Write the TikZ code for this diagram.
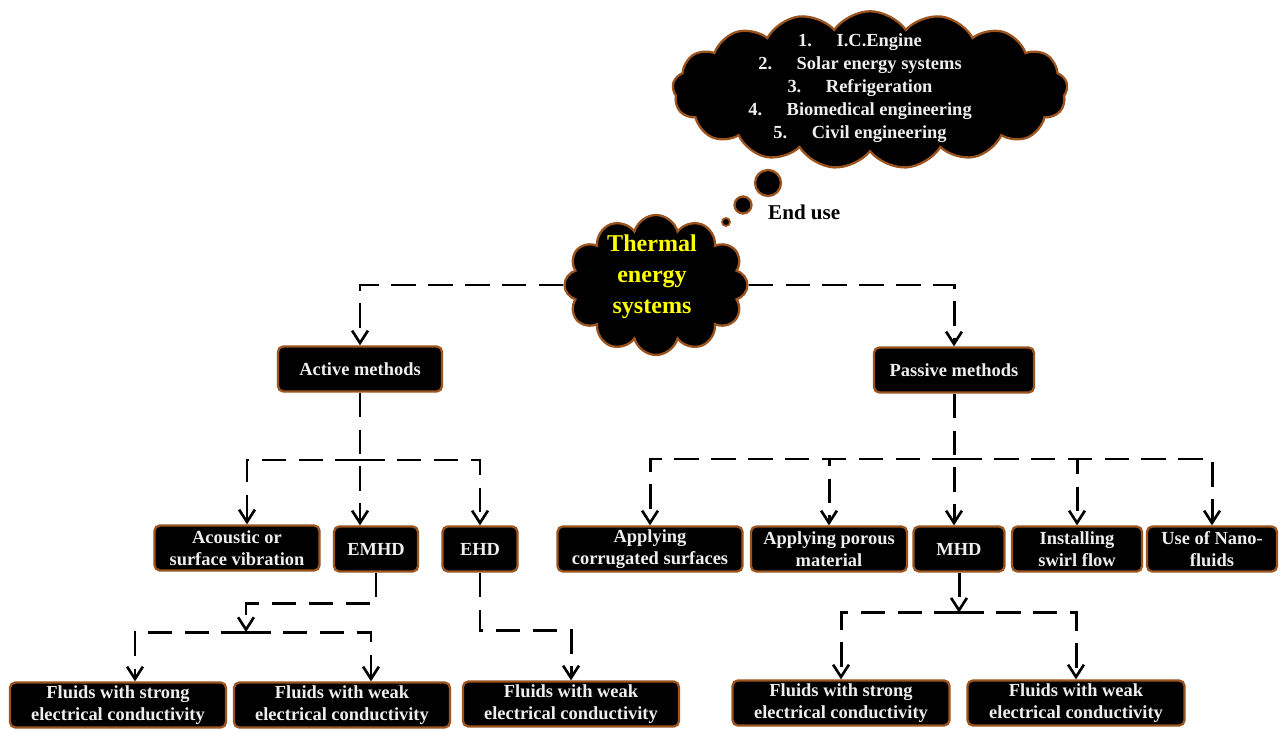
\documentclass[tikz,border=0pt]{standalone}
\usepackage{fontspec}
\setmainfont{Liberation Serif}
\usetikzlibrary{shapes.symbols, arrows.meta, positioning}
\definecolor{rim}{RGB}{156,84,30}
\definecolor{paper}{RGB}{238,238,238}
\definecolor{glow}{RGB}{255,255,0}

\begin{document}
\begin{tikzpicture}[x=0.02cm, y=-0.02cm, font=\bfseries\fontsize{10.5}{12.5}\selectfont,
    box/.style={draw=rim, fill=black, text=paper, line width=1.3pt, rounded corners=3pt,
        minimum height=0.9cm, align=center, inner xsep=2pt, inner ysep=0.5pt},
    puff/.style={cloud, draw=rim, fill=black, line width=1.3pt},
    bubble/.style={circle, draw=rim, fill=black, line width=1.3pt, inner sep=0pt},
    dline/.style={line width=1.7pt, dash pattern=on 14pt off 7pt},
    conn/.style={dline, -{Straight Barb[length=7pt, width=9pt, line width=1.5pt]}}]

\fill[white] (0,0) rectangle (1281,730);
\useasboundingbox (0,0) rectangle (1281,730);

\node[puff, cloud puffs=17, cloud puff arc=110, aspect=2.5, minimum width=7.9cm, minimum height=3.15cm] (usecloud) at (870,90) {};
\node[text=paper, align=center, font=\bfseries\fontsize{10.5}{13}\selectfont] (uselist) at (860,88) {
    1.\hspace{14pt}I.C.Engine\\
    2.\hspace{14pt}Solar energy systems\\
    3.\hspace{14pt}Refrigeration\\
    4.\hspace{14pt}Biomedical engineering\\
    5.\hspace{14pt}Civil engineering};

\node[bubble, minimum size=0.52cm] (bub1) at (768,183) {};
\node[bubble, minimum size=0.34cm] (bub2) at (743,205) {};
\node[bubble, minimum size=0.16cm, line width=1pt] (bub3) at (726,222) {};
\node[anchor=west, font=\bfseries\fontsize{12}{14}\selectfont] (enduse) at (762,212) {End use};

\node[puff, cloud puffs=12, aspect=1.3, minimum width=3.66cm, minimum height=2.8cm] (therm) at (656,285) {};
\node[text=glow, align=center, font=\bfseries\fontsize{13.7}{17.6}\selectfont] (thermtxt) at (652,277) {Thermal\\energy\\systems};

\node[box, minimum width=3.28cm] (act) at (360,369) {Active methods};
\node[box, minimum width=3.2cm] (pas) at (954,370) {Passive methods};

\node[box, minimum width=3.3cm] (acou) at (237,548) {Acoustic or\\surface vibration};
\node[box, minimum width=1.68cm] (emhd) at (376,549) {EMHD};
\node[box, minimum width=1.5cm] (ehd) at (480,549) {EHD};
\node[box, minimum width=3.7cm] (corr) at (650,549) {Applying\\corrugated surfaces};
\node[box, minimum width=3.12cm] (poro) at (829,549) {Applying porous\\material};
\node[box, minimum width=1.82cm] (mhd) at (959,549) {MHD};
\node[box, minimum width=2.6cm] (swirl) at (1077,549) {Installing\\swirl flow};
\node[box, minimum width=2.6cm] (nano) at (1212,549) {Use of Nano-\\fluids};

\node[box, minimum width=4.32cm] (strongA) at (118,705) {Fluids with strong\\electrical conductivity};
\node[box, minimum width=4.32cm] (weakA) at (342,705) {Fluids with weak\\electrical conductivity};
\node[box, minimum width=4.32cm] (weakB) at (571,704) {Fluids with weak\\electrical conductivity};
\node[box, minimum width=4.34cm] (strongB) at (841,703) {Fluids with strong\\electrical conductivity};
\node[box, minimum width=4.34cm] (weakC) at (1076,703) {Fluids with weak\\electrical conductivity};

\coordinate (aj) at (360,460);
\coordinate (pj) at (957,459);
\coordinate (ej) at (246,632);

\draw[conn] (therm.west) -| (act.north);
\draw[conn] (therm.east) -| (pas.north);

\draw[conn] (act.south) -- (act.south |- emhd.north);
\draw[conn] (aj) -| ([xshift=0.2cm]acou.north);
\draw[conn] (aj) -| (ehd.north);

\draw[conn] (pas.south) -- (pas.south |- mhd.north);
\foreach \n in {corr,poro,swirl,nano} {
    \draw[conn] (pj) -| (\n.north);
}

\draw[conn] (emhd.south) -- ++(0,31) -| (ej);
\draw[conn] (ej) -| ([xshift=0.34cm]strongA.north);
\draw[conn] (ej) -| ([xshift=0.58cm]weakA.north);

\draw[conn] (ehd.south) -- ++(0,58) -| (weakB.north);

\draw[conn] (mhd.south) -- ++(0,40) coordinate (mj);
\draw[conn] (mj) -| (strongB.north);
\draw[conn] (mj) -| (weakC.north);
\end{tikzpicture}
\end{document}
